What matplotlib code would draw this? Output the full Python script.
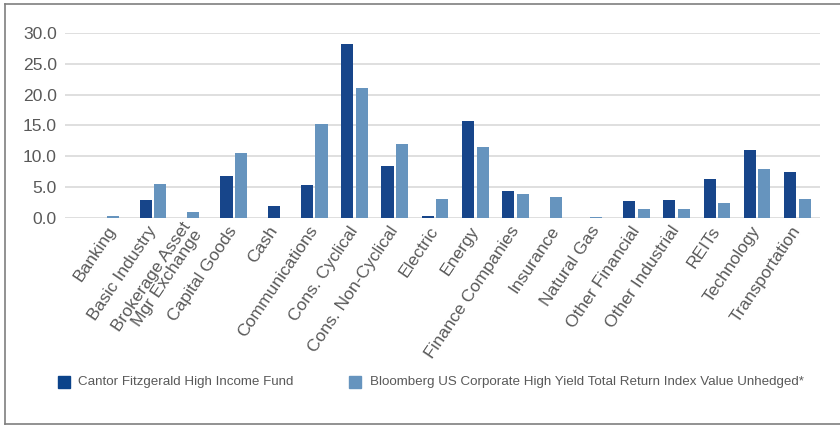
import matplotlib
matplotlib.use("Agg")
import matplotlib.pyplot as plt
from matplotlib.lines import Line2D
from matplotlib.patches import Rectangle
import numpy as np

plt.rcParams['font.family'] = ['Liberation Sans', 'DejaVu Sans']

categories = ["Banking", "Basic Industry", "Brokerage Asset\nMgr Exchange", "Capital Goods",
              "Cash", "Communications", "Cons. Cyclical", "Cons. Non-Cyclical", "Electric",
              "Energy", "Finance Companies", "Insurance", "Natural Gas", "Other Financial",
              "Other Industrial", "REITs", "Technology", "Transportation"]
fund = [0.0, 2.9, 0.0, 6.8, 1.9, 5.3, 28.2, 8.4, 0.3, 15.7, 4.3, 0.0, 0.0, 2.7, 2.9, 6.4, 11.0, 7.4]
bench = [0.4, 5.5, 0.9, 10.5, 0.0, 15.2, 21.1, 12.0, 3.0, 11.5, 3.9, 3.4, 0.2, 1.4, 1.4, 2.5, 7.9, 3.0]
series_names = ["Cantor Fitzgerald High Income Fund",
                "Bloomberg US Corporate High Yield Total Return Index Value Unhedged*"]
yticks = [0, 5, 10, 15, 20, 25, 30]

colors = ["#17458A", "#6694BE"]
W, H = 840, 426
fig = plt.figure(figsize=(W / 100, H / 100), dpi=100)
ax = fig.add_axes([65 / W, 1 - 218 / H, (820 - 65) / W, (218 - 33) / H])

x = np.arange(len(categories))
bw = 0.30
off = 0.18
for i in range(len(categories)):
    f, b = fund[i], bench[i]
    if f > 0 and b > 0:
        ax.bar(i - off, f, bw, color=colors[0], zorder=3)
        ax.bar(i + off, b, bw, color=colors[1], zorder=3)
    elif f > 0:
        ax.bar(i, f, bw, color=colors[0], zorder=3)
    elif b > 0:
        ax.bar(i, b, bw, color=colors[1], zorder=3)

ax.set_ylim(0, 30)
ax.set_xlim(-1.19, len(categories) - 1 + 0.56)
ax.set_yticks(yticks)
ax.set_yticklabels([f"{v:.1f}" for v in yticks], fontsize=12.6, color="#595959")
ax.grid(axis="y", color="#d9d9d9", linewidth=1.2, zorder=0)
ax.set_axisbelow(True)
for s in ax.spines.values():
    s.set_visible(False)
ax.tick_params(axis="y", length=0, pad=6)
ax.tick_params(axis="x", length=0, pad=7)
ax.set_xticks(x)
ax.set_xticklabels(categories, rotation=56, ha="right", va="center",
                   rotation_mode="anchor", fontsize=12.6, color="#595959", linespacing=0.9)

# outer frame
fc = "#7f7f7f"
fig.add_artist(Line2D([5 / W, 5 / W], [1 - 4 / H, 1 - 424 / H], transform=fig.transFigure, color=fc, lw=1.2))
fig.add_artist(Line2D([5 / W, 1], [1 - 4 / H, 1 - 4 / H], transform=fig.transFigure, color=fc, lw=1.2))
fig.add_artist(Line2D([5 / W, 1], [1 - 424 / H, 1 - 424 / H], transform=fig.transFigure, color=fc, lw=1.2))

# legend
sq_x = [58, 349]
tx_x = [78, 370]
legend_colors = ["#0B438A", "#6694BE"]
for k in range(2):
    fig.add_artist(Rectangle((sq_x[k] / W, 1 - 388 / H), 12 / W, 12 / H,
                             transform=fig.transFigure, color=legend_colors[k]))
    fig.text(tx_x[k] / W, 1 - 382 / H, series_names[k], fontsize=9.6, color="#595959",
             ha="left", va="center")

fig.savefig("out.png", dpi=100)
